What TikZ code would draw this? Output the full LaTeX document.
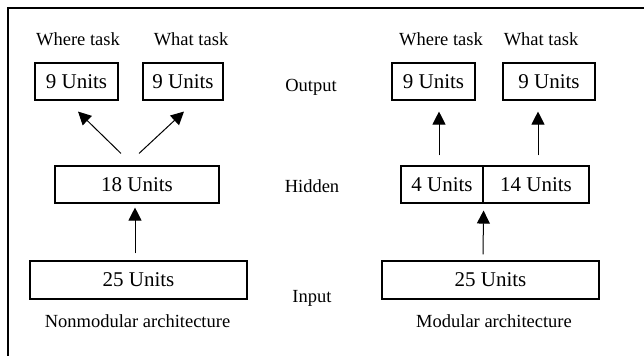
\documentclass[tikz,border=0pt]{standalone}
\usepackage{fontspec}
\setmainfont{Liberation Serif}
\usetikzlibrary{arrows.meta,calc}
\tikzset{
  unitbox/.style={draw,line width=1.1pt,inner sep=0pt,minimum height=37pt,font=\fontsize{21}{24}\selectfont},
  lbl/.style={inner sep=0pt,font=\fontsize{18.5}{22}\selectfont},
  arr/.style={line width=1pt,-{Triangle[length=13pt,width=13pt]}},
  frame/.style={line width=1.6pt}
}
\begin{document}
\begin{tikzpicture}[x=1pt,y=-1pt]
\useasboundingbox (0,0) rectangle (644,356);
\fill[white] (0,0) rectangle (644,356);
\draw[frame] (644,8) -- (8,8) -- (8,356);
% left: nonmodular
\node[lbl] (lwhere) at (78,39) {Where task};
\node[lbl] (lwhat) at (191,39) {What task};
\node[unitbox,minimum width=83pt] (w1) at (76.5,81.5) {9 Units};
\node[unitbox,minimum width=80pt] (w2) at (183,81.5) {9 Units};
\node[unitbox,minimum width=164pt] (h1) at (137,184.5) {18 Units};
\node[unitbox,minimum width=217pt,minimum height=38pt] (i1) at (138.5,280) {25 Units};
\node[lbl] (nonmod) at (137.5,321) {Nonmodular architecture};
\draw[arr] ($(h1.north)+(-16,-12)$) -- ($(w1.south)+(1.5,11)$);
\draw[arr] ($(h1.north)+(2,-12)$) -- ($(w2.south)+(1,11)$);
\draw[arr] ($(i1.north)+(-3.5,-7)$) -- ($(h1.south)+(-2,4)$);
% middle labels
\node[lbl] (out) at (311,87) {Output};
\node[lbl] (hid) at (312,186) {Hidden};
\node[lbl] (inp) at (312,298) {Input};
% right: modular
\node[lbl] (rwhere) at (441,39) {Where task};
\node[lbl] (rwhat) at (541,39) {What task};
\node[unitbox,minimum width=83pt] (r1) at (433.5,81.5) {9 Units};
\node[unitbox,minimum width=92pt] (r2) at (549,81.5) {9 Units};
\node[unitbox,minimum width=82pt] (rh1) at (442,184.5) {4 Units};
\node[unitbox,minimum width=106pt] (rh2) at (536,184.5) {14 Units};
\node[unitbox,minimum width=217pt,minimum height=38pt] (ri) at (490.5,280) {25 Units};
\node[lbl] (mod) at (494,321) {Modular architecture};
\draw[arr] ($(rh1.north)+(-3,-10)$) -- ($(r1.south)+(5.5,11)$);
\draw[arr] ($(rh2.north)+(2,-10)$) -- ($(r2.south)+(-11,11)$);
\draw[arr] ($(ri.north)+(-7.5,-6)$) -- ($(rh1.south east)+(0,7)$);
\end{tikzpicture}
\end{document}
